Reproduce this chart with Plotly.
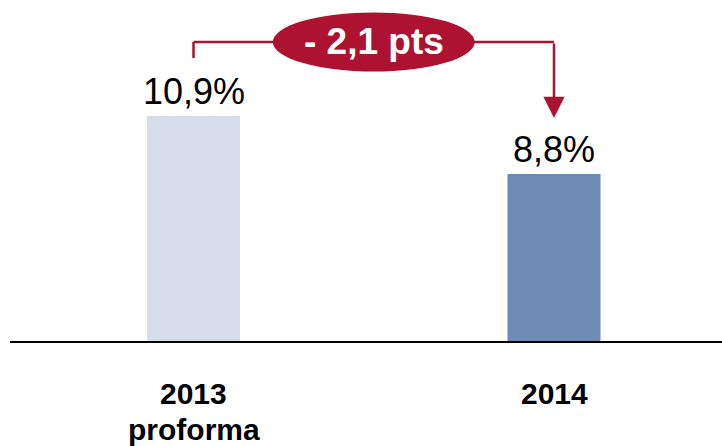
import plotly.graph_objects as go

categories = ["2013<br>proforma", "2014"]
values = [10.9, 8.8]
bar_colors = ["#D5DDE8", "#6D8BB5"]
delta_label = "- 2,1 pts"

RED = "#AD1230"
FONT = "Liberation Sans, Arial, sans-serif"

x_idx = list(range(len(categories)))

fig = go.Figure()
fig.add_trace(go.Bar(
    x=x_idx, y=values, marker=dict(color=bar_colors, line=dict(width=0)),
    width=0.258, hoverinfo="skip", showlegend=False,
))

# value labels
for i, v in zip(x_idx, values):
    fig.add_annotation(
        x=i, y=v, xref="x", yref="y", yanchor="bottom", yshift=2,
        text=f"{v:.1f}".replace(".", ",") + "%", showarrow=False,
        font=dict(family=FONT, size=36, color="#000000"),
    )

# category labels (each line placed separately for tight line spacing)
for i, c in zip(x_idx, categories):
    for k, line in enumerate(c.split("<br>")):
        fig.add_annotation(
            x=i, y=0, xref="x", yref="paper", yanchor="middle",
            yshift=-(52 + 36 * k), text=f"<b>{line}</b>", showarrow=False,
            font=dict(family=FONT, size=30, color="#000000"),
        )

# bracket geometry (data units)
y_top = max(values) + 2.68
y_left_end = values[0] + 2.1
y_arrow_tip = values[1] + 2.03
mid = (x_idx[0] + x_idx[1]) / 2

fig.add_shape(type="line", x0=x_idx[0], x1=x_idx[1], y0=y_top, y1=y_top,
              xref="x", yref="y", line=dict(color=RED, width=2.5), layer="above")
fig.add_shape(type="line", x0=x_idx[0], x1=x_idx[0], y0=y_left_end, y1=y_top,
              xref="x", yref="y", line=dict(color=RED, width=2.5), layer="above")
fig.add_annotation(
    x=x_idx[1], y=y_arrow_tip, ax=x_idx[1], ay=y_top,
    xref="x", yref="y", axref="x", ayref="y",
    showarrow=True, arrowhead=2, arrowsize=1.7, arrowwidth=2.5, arrowcolor=RED,
    text="",
)
fig.add_shape(type="circle", x0=mid - 0.28, x1=mid + 0.28, y0=y_top - 1.07, y1=y_top + 1.07,
              xref="x", yref="y", fillcolor=RED, line=dict(width=0), layer="above")
fig.add_annotation(
    x=mid, y=y_top, xref="x", yref="y", text=f"<b>{delta_label}</b>", showarrow=False,
    font=dict(family=FONT, size=37, color="#FFFFFF"),
)

fig.update_layout(
    width=722, height=446,
    margin=dict(l=10, r=0, t=0, b=105),
    paper_bgcolor="white", plot_bgcolor="white",
    xaxis=dict(
        range=[-0.509, 1.466], tickvals=x_idx, showticklabels=False,
        showline=True, linecolor="#000000", linewidth=2,
        showgrid=False, zeroline=False, ticks="", automargin=False,
    ),
    yaxis=dict(range=[2.75, 15.1], visible=False, showgrid=False, zeroline=False,
               automargin=False),
)

fig.write_html("out.html", config={"displayModeBar": False},
               post_script="document.body.style.margin='0';")
